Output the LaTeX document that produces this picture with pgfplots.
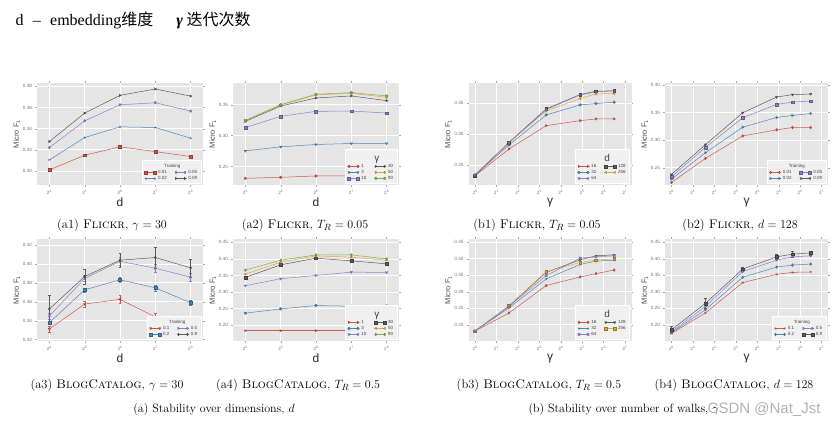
\documentclass[border=0pt]{standalone}
\usepackage{fontspec}
\setsansfont{Liberation Sans}
\newfontfamily\cjk{Noto Sans CJK SC}
\newfontfamily\titlefont{Liberation Serif}
\newfontfamily\wmfont{Liberation Sans}
\usepackage{pgfplots}
\pgfplotsset{compat=1.18}
\usepackage{pgfplotstable}

\definecolor{cred}{HTML}{D0574A}
\definecolor{cblue}{HTML}{4E86B8}
\definecolor{cpurp}{HTML}{8A80C8}
\definecolor{cgray}{HTML}{5A5A5A}
\definecolor{corange}{HTML}{E5A63A}
\definecolor{cgreen}{HTML}{7DB04A}
\definecolor{panel}{HTML}{E5E5E5}
\definecolor{legbg}{HTML}{F0F0F0}

% (a1) Flickr, gamma=30 ; x = log2 d
\pgfplotstableread{
x t01 t02 t05 t09
4 0.3010 0.3104 0.3221 0.3278
5 0.3149 0.3316 0.3474 0.3547
6 0.3228 0.3417 0.3626 0.3715
7 0.3183 0.3411 0.3645 0.3775
8 0.3136 0.3310 0.3566 0.3708
}\tabAone
% (a2) Flickr, T_R=0.05
\pgfplotstableread{
x g1 g3 g10 g30 g50 g90
4 0.2311 0.2754 0.3132 0.3230 0.3241 0.3246
5 0.2327 0.2819 0.3311 0.3478 0.3495 0.3500
6 0.2349 0.2857 0.3392 0.3608 0.3657 0.3668
7 0.2350 0.2873 0.3397 0.3641 0.3684 0.3695
8 0.2352 0.2873 0.3365 0.3565 0.3619 0.3641
}\tabAtwo
% (b1) Flickr, T_R=0.05 ; x = log2 gamma
\pgfplotstableread{
x d16 d32 d64 d128 d256
0     0.2328 0.2339 0.2344 0.2328 0.2349
1.585 0.2758 0.2823 0.2855 0.2866 0.2866
3.322 0.3134 0.3306 0.3392 0.3403 0.3371
4.907 0.3215 0.3468 0.3629 0.3634 0.3570
5.644 0.3242 0.3489 0.3677 0.3688 0.3645
6.492 0.3242 0.3511 0.3694 0.3694 0.3651
}\tabBone
% (b2) Flickr, d=128
\pgfplotstableread{
x t01 t02 t05 t09
0     0.2233 0.2293 0.2336 0.2378
1.585 0.2670 0.2773 0.2871 0.2919
3.322 0.3077 0.3235 0.3405 0.3496
4.907 0.3187 0.3411 0.3648 0.3782
5.644 0.3229 0.3448 0.3690 0.3824
6.492 0.3229 0.3484 0.3709 0.3837
}\tabBtwo
% (a3) BlogCatalog, gamma=30
\pgfplotstableread{
x t1 e1 t2 e2 t5 e5 t9 e9
4 0.3312 0.003 0.3379 0.002 0.3449 0.003 0.3523 0.0145
5 0.3575 0.003 0.3726 0.002 0.3846 0.003 0.3867 0.0080
6 0.3625 0.004 0.3832 0.003 0.4028 0.004 0.4039 0.0073
7 0.3439 0.004 0.3747 0.003 0.3954 0.004 0.4067 0.0115
8 0.3344 0.002 0.3589 0.003 0.3860 0.004 0.3958 0.0095
}\tabAthree
% (a4) BlogCatalog, T_R=0.5
\pgfplotstableread{
x g1 g3 g10 g30 g50 g90
4 0.183 0.236 0.319 0.344 0.354 0.366
5 0.183 0.249 0.340 0.382 0.390 0.396
6 0.183 0.259 0.350 0.402 0.409 0.412
7 0.183 0.257 0.360 0.394 0.405 0.412
8 0.183 0.258 0.359 0.385 0.396 0.400
}\tabAfour
% (b3) BlogCatalog, T_R=0.5
\pgfplotstableread{
x d16 d32 d64 d128 d256
0     0.181 0.181 0.181 0.181 0.181
1.585 0.236 0.251 0.256 0.256 0.258
3.322 0.319 0.339 0.349 0.359 0.361
4.907 0.345 0.383 0.402 0.397 0.389
5.644 0.355 0.393 0.406 0.409 0.396
6.492 0.366 0.396 0.409 0.412 0.400
}\tabBthree
% (b4) BlogCatalog, d=128
\pgfplotstableread{
x t1 t2 t5 t9 e9
0     0.174 0.176 0.179 0.185 0.010
1.585 0.236 0.246 0.256 0.265 0.016
3.322 0.328 0.344 0.361 0.369 0.006
4.907 0.353 0.375 0.396 0.406 0.008
5.644 0.359 0.381 0.406 0.414 0.008
6.492 0.360 0.384 0.409 0.418 0.006
}\tabBfour

\pgfplotsset{
  gg/.style={
    scale only axis, width=166pt, height=102pt,
    axis background/.style={fill=panel},
    axis line style={draw=none},
    grid=major, major grid style={draw=white, line width=0.7pt},
    tick align=outside, major tick length=1.6pt,
    tick style={black!35, line width=0.3pt},
    /pgf/number format/assume math mode=true,
    tick label style={font=\fontsize{4.6}{5}\selectfont\sffamily, text=black!55},
    yticklabel style={/pgf/number format/fixed, /pgf/number format/fixed zerofill, /pgf/number format/precision=2},
    ylabel={Micro F\textsubscript{1}},
    ylabel style={font=\fontsize{7.5}{8}\selectfont\sffamily, text=black!70, yshift=-4pt},
    xlabel style={font=\fontsize{12}{12}\selectfont\sffamily, text=black!85, yshift=3pt},
    legend style={at={(rel axis cs:0.99,0.015)}, anchor=south east, fill=legbg, draw=white,
      font=\fontsize{4.5}{4.7}\selectfont\sffamily, text=black!75, inner xsep=2pt, inner ysep=0.5pt, row sep=-2.6pt,
      /tikz/every even column/.append style={column sep=6pt}},
    legend columns=2, legend cell align=left,
    legend image code/.code={\draw[mark repeat=2, mark phase=1] plot coordinates {(0pt,0pt) (4.5pt,0pt) (9pt,0pt)};},
  },
  dax/.style={gg, xmin=3.65, xmax=8.35, xtick={4,5,6,7,8},
    xticklabels={2\textsuperscript{4},2\textsuperscript{5},2\textsuperscript{6},2\textsuperscript{7},2\textsuperscript{8}},
    xlabel={d}},
  gax/.style={gg, width=163pt, xmin=-0.3, xmax=7.3, xtick={0,1,2,3,4,5,6,7},
    xticklabels={2\textsuperscript{0},2\textsuperscript{1},2\textsuperscript{2},2\textsuperscript{3},2\textsuperscript{4},2\textsuperscript{5},2\textsuperscript{6},2\textsuperscript{7}},
    xlabel={γ}},
}

% table, column, colour, mark, rotation
\newcommand\pl[5]{\addplot[color=#3, line width=0.5pt, mark=#4, mark size=1.4pt,
  mark options={solid, rotate=#5, fill=#3, draw=#3!70!black, line width=0.25pt}] table[x=x, y=#2] {#1};}
\newcommand\ple[6]{\addplot[color=#3, line width=0.5pt, mark=#4, mark size=1.4pt,
  mark options={solid, rotate=#5, fill=#3, draw=#3!70!black, line width=0.25pt},
  error bars/.cd, y dir=both, y explicit, error mark options={rotate=90, mark size=1.2pt, line width=0.3pt},
  error bar style={line width=0.3pt}] table[x=x, y=#2, y error=#6] {#1};}
% hspace, height, depth, text
\newcommand\legtitle[4]{\addlegendimage{empty legend}\addlegendentry{\makebox[0pt][l]{\hspace{#1}\raisebox{0pt}[#2][#3]{#4}}}\addlegendimage{empty legend}\addlegendentry{}}
\newcommand\trtitle{\legtitle{6pt}{4.8pt}{0.3pt}{Training}}
\newcommand\bigtitle[1]{\legtitle{13pt}{9.5pt}{1pt}{\fontsize{10}{10}\selectfont #1}}

\begin{document}
\begin{tikzpicture}[x=1pt,y=1pt]
\useasboundingbox (0,0) rectangle (840,430);
\fill[white] (0,0) rectangle (840,430);
\node[anchor=west, font=\fontsize{16}{16}\selectfont] at (12,410) {\titlefont d\,\, –\,\, embedding\cjk 维度\hspace{23pt}{\titlefont\bfseries\itshape γ} \cjk 迭代次数};

% ---------------- (a1)
\begin{axis}[dax, at={(37pt,245pt)}, anchor=south west, ymin=0.2867, ymax=0.3832, ytick={0.30,0.32,0.34,0.36,0.38}]
\trtitle
\pl{\tabAone}{t01}{cred}{square*}{0} \addlegendentry{0.01}
\pl{\tabAone}{t05}{cpurp}{diamond*}{0} \addlegendentry{0.05}
\pl{\tabAone}{t02}{cblue}{star}{0} \addlegendentry{0.02}
\pl{\tabAone}{t09}{cgray}{triangle*}{-90} \addlegendentry{0.09}
\end{axis}

% ---------------- (a2)
\begin{axis}[dax, at={(233pt,245pt)}, anchor=south west, ymin=0.2203, ymax=0.385, ytick={0.25,0.30,0.35}]
\bigtitle{γ}
\pl{\tabAtwo}{g1}{cred}{*}{0} \addlegendentry{1}
\pl{\tabAtwo}{g30}{cgray}{triangle*}{-90} \addlegendentry{30}
\pl{\tabAtwo}{g3}{cblue}{triangle*}{180} \addlegendentry{3}
\pl{\tabAtwo}{g50}{corange}{diamond*}{0} \addlegendentry{50}
\pl{\tabAtwo}{g10}{cpurp}{square*}{0} \addlegendentry{10}
\pl{\tabAtwo}{g90}{cgreen}{pentagon*}{0} \addlegendentry{90}
\end{axis}

% ---------------- (b1)
\begin{axis}[gax, at={(468.5pt,245pt)}, anchor=south west, ymin=0.218, ymax=0.382, ytick={0.25,0.30,0.35}]
\bigtitle{d}
\pl{\tabBone}{d16}{cred}{triangle*}{-90} \addlegendentry{16}
\pl{\tabBone}{d128}{cgray}{square*}{0} \addlegendentry{128}
\pl{\tabBone}{d32}{cblue}{*}{0} \addlegendentry{32}
\pl{\tabBone}{d256}{corange}{triangle*}{90} \addlegendentry{256}
\pl{\tabBone}{d64}{cpurp}{triangle*}{180} \addlegendentry{64}
\end{axis}

% ---------------- (b2)
\begin{axis}[gax, at={(665pt,245pt)}, anchor=south west, ymin=0.2188, ymax=0.4036, ytick={0.25,0.30,0.35,0.40}]
\trtitle
\pl{\tabBtwo}{t01}{cred}{diamond*}{0} \addlegendentry{0.01}
\pl{\tabBtwo}{t05}{cpurp}{square*}{0} \addlegendentry{0.05}
\pl{\tabBtwo}{t02}{cblue}{triangle*}{-90} \addlegendentry{0.02}
\pl{\tabBtwo}{t09}{cgray}{triangle*}{180} \addlegendentry{0.09}
\end{axis}

% ---------------- (a3)
\begin{axis}[dax, at={(37pt,89pt)}, anchor=south west, ymin=0.3185, ymax=0.4263, ytick={0.32,0.34,0.36,0.38,0.40,0.42}]
\trtitle
\ple{\tabAthree}{t1}{cred}{triangle*}{180}{e1} \addlegendentry{0.1}
\ple{\tabAthree}{t5}{cpurp}{triangle*}{-90}{e5} \addlegendentry{0.5}
\ple{\tabAthree}{t2}{cblue}{square*}{0}{e2} \addlegendentry{0.2}
\ple{\tabAthree}{t9}{cgray}{diamond*}{0}{e9} \addlegendentry{0.9}
\end{axis}

% ---------------- (a4)
\begin{axis}[dax, at={(233pt,89pt)}, anchor=south west, ymin=0.152, ymax=0.46, ytick={0.15,0.20,0.25,0.30,0.35,0.40,0.45}]
\bigtitle{γ}
\pl{\tabAfour}{g1}{cred}{triangle*}{-90} \addlegendentry{1}
\pl{\tabAfour}{g30}{cgray}{square*}{0} \addlegendentry{30}
\pl{\tabAfour}{g3}{cblue}{*}{0} \addlegendentry{3}
\pl{\tabAfour}{g50}{corange}{triangle*}{90} \addlegendentry{50}
\pl{\tabAfour}{g10}{cpurp}{triangle*}{180} \addlegendentry{10}
\pl{\tabAfour}{g90}{cgreen}{diamond*}{0} \addlegendentry{90}
\end{axis}

% ---------------- (b3)
\begin{axis}[gax, at={(468.5pt,89pt)}, anchor=south west, ymin=0.151, ymax=0.46, ytick={0.15,0.20,0.25,0.30,0.35,0.40,0.45}]
\bigtitle{d}
\pl{\tabBthree}{d16}{cred}{diamond*}{0} \addlegendentry{16}
\pl{\tabBthree}{d128}{cgray}{triangle*}{180} \addlegendentry{128}
\pl{\tabBthree}{d32}{cblue}{star}{0} \addlegendentry{32}
\pl{\tabBthree}{d256}{corange}{square*}{0} \addlegendentry{256}
\pl{\tabBthree}{d64}{cpurp}{pentagon*}{0} \addlegendentry{64}
\end{axis}

% ---------------- (b4)
\begin{axis}[gax, at={(665pt,89pt)}, anchor=south west, ymin=0.151, ymax=0.46, ytick={0.15,0.20,0.25,0.30,0.35,0.40,0.45}]
\trtitle
\pl{\tabBfour}{t1}{cred}{star}{0} \addlegendentry{0.1}
\pl{\tabBfour}{t5}{cpurp}{triangle*}{-90} \addlegendentry{0.5}
\pl{\tabBfour}{t2}{cblue}{diamond*}{0} \addlegendentry{0.2}
\ple{\tabBfour}{t9}{cgray}{square*}{0}{e9} \addlegendentry{0.9}
\end{axis}

% captions
\begin{scope}[font=\fontsize{12.5}{14}\selectfont]
\node at (112,205) {(a1) \textsc{Flickr}, $\gamma = 30$};
\node at (305,205) {(a2) \textsc{Flickr}, $T_R = 0.05$};
\node at (537,205) {(b1) \textsc{Flickr}, $T_R = 0.05$};
\node at (740,205) {(b2) \textsc{Flickr}, $d = 128$};
\node at (107,45) {(a3) \textsc{BlogCatalog}, $\gamma = 30$};
\node at (298,45) {(a4) \textsc{BlogCatalog}, $T_R = 0.5$};
\node at (539,45) {(b3) \textsc{BlogCatalog}, $T_R = 0.5$};
\node at (734,45) {(b4) \textsc{BlogCatalog}, $d = 128$};
\end{scope}
\begin{scope}[font=\fontsize{12}{14}\selectfont]
\node at (214,20) {(a) Stability over dimensions, $d$};
\node[anchor=west] at (525,20) {(b) Stability over number of walks, $\gamma$};
\end{scope}
\node[anchor=east, font=\wmfont\fontsize{15}{15}\selectfont, text=black!30] at (824,20) {CSDN @Nat\_Jst};
\end{tikzpicture}
\end{document}
